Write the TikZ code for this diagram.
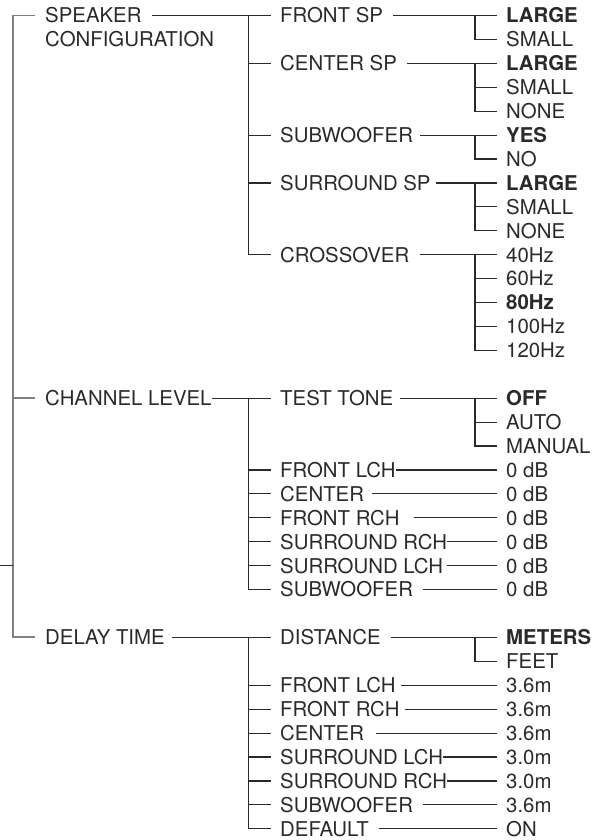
\documentclass[tikz,border=0pt]{standalone}
\usepackage{fontspec}
\setmainfont{TeX Gyre Heros}
\definecolor{ink}{HTML}{2A2A2A}
\definecolor{trunkgray}{HTML}{808080}
\tikzset{
  item/.style={anchor=west,inner sep=0pt,text height=0.44cm,text depth=0pt,
    text=ink,font=\fontsize{17.4}{20}\selectfont},
  wire/.style={draw=ink,line width=1pt,shorten >=0.26cm},
  trunkline/.style={draw=trunkgray,line width=1.7pt},
}
\newcommand{\rowy}[1]{15.5+23.92*#1}

\begin{document}
\begin{tikzpicture}[x=0.03cm,y=-0.03cm]
\useasboundingbox (0,0) rectangle (613,840);
\coordinate (trunk) at (13.3,0);
\coordinate (v2) at (248.3,0);
\coordinate (v3) at (475,0);
\coordinate (root) at (0,565.5);

\node[item] (spk) at (45,{\rowy{0}}) {SPEAKER};
\node[item] (spk2) at (45,{\rowy{1}}) {CONFIGURATION};
\node[item] (chl) at (45,{\rowy{16}}) {CHANNEL LEVEL};
\node[item] (dly) at (45,{\rowy{26}}) {DELAY TIME};

\foreach \r/\t in {0/\textbf{LARGE},1/SMALL,2/\textbf{LARGE},3/SMALL,4/NONE,
  5/\textbf{YES},6/NO,7/\textbf{LARGE},8/SMALL,9/NONE,
  10/40Hz,11/60Hz,12/\textbf{80Hz},13/100Hz,14/120Hz,
  16/\textbf{OFF},17/AUTO,18/MANUAL,19/0 dB,20/0 dB,21/0 dB,22/0 dB,23/0 dB,24/0 dB,
  26/\textbf{METERS},27/FEET,28/3.6m,29/3.6m,30/3.6m,31/3.0m,32/3.0m,33/3.6m,34/ON}
  \node[item] (l3-\r) at (506,{\rowy{\r}}) {\t};

\foreach \r/\t/\g in {0/FRONT SP/10,2/CENTER SP/10,5/SUBWOOFER/7,7/SURROUND SP/5,
  10/CROSSOVER/10,16/TEST TONE/7,19/FRONT LCH/0,20/CENTER/8,21/FRONT RCH/14,
  22/SURROUND RCH/0,23/SURROUND LCH/4,24/SUBWOOFER/10,26/DISTANCE/10,
  28/FRONT LCH/5,29/FRONT RCH/5,30/CENTER/12,31/SURROUND LCH/0,
  32/SURROUND RCH/0,33/SUBWOOFER/10,34/DEFAULT/10}{
  \node[item] (l2-\r) at (280,{\rowy{\r}}) {\t};
  \draw[wire] (l2-\r.east) ++(\g,0) -- (l3-\r.west);
}

\draw[trunkline,shorten <=0.3cm,shorten >=0.3cm] (spk.west) -| (trunk |- dly.west) -- (dly.west);
\draw[trunkline,shorten >=0.3cm] (trunk |- chl.west) -- (chl.west);
\draw[draw=ink,line width=1pt] (root) -- (root -| trunk);

\draw[wire] (spk.east) ++(10,0) -- (l2-0.west);
\draw[wire] (chl.east) -- (l2-16.west);
\draw[wire] (dly.east) ++(7,0) -- (l2-26.west);
\foreach \a/\b in {0/10,16/24,26/34}
  \draw[wire] (l2-\a.west -| v2) |- (l2-\b.west);
\foreach \r in {2,5,7,19,20,21,22,23,28,29,30,31,32,33}
  \draw[wire] (l2-\r.west -| v2) -- (l2-\r.west);

\foreach \a/\b in {0/1,2/4,5/6,7/9,10/14,16/18,26/27}
  \draw[wire] (l3-\a.west -| v3) |- (l3-\b.west);
\foreach \r in {3,8,11,12,13,17}
  \draw[wire] (l3-\r.west -| v3) -- (l3-\r.west);
\end{tikzpicture}
\end{document}
